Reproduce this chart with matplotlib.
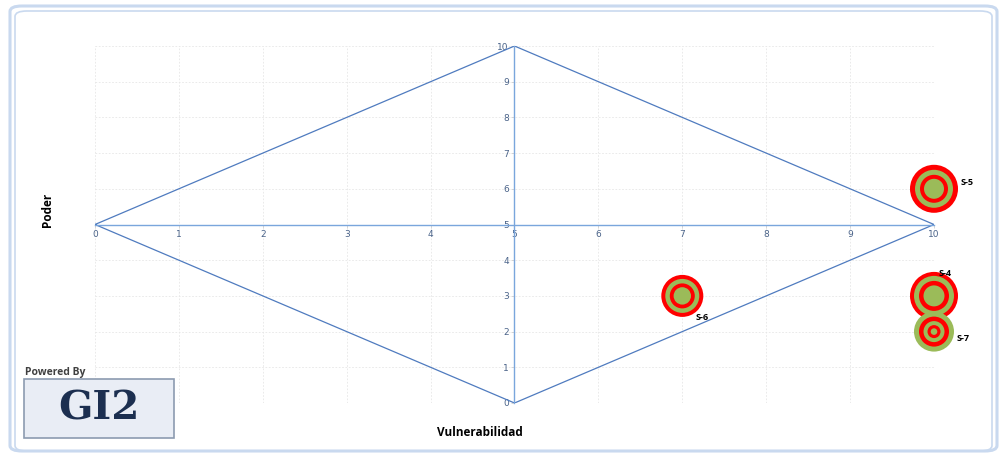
import matplotlib
matplotlib.use("Agg")
import matplotlib.pyplot as plt
from matplotlib.patches import FancyBboxPatch, Rectangle

# Stakeholders: vulnerability (x) and power (y)
names = ["S-5", "S-4", "S-6", "S-7"]
vulnerabilidad = [10, 10, 7, 10]
poder = [6, 3, 3, 2]

# Reference diamond (rombo)
rombo_x = [0, 5, 10, 5, 0]
rombo_y = [5, 10, 5, 0, 5]

ticks = list(range(0, 11))

RED = "#ff0000"
GREEN = "#9bbb59"
TICK_COLOR = "#4a6389"

# Concentric ring radii in pixels, outer to inner, with their colours
rings = {
    "S-5": [(24, RED), (19, GREEN), (14, RED), (10, GREEN)],
    "S-4": [(24, RED), (20, GREEN), (15, RED), (10.5, GREEN)],
    "S-6": [(21, RED), (17, GREEN), (12.5, RED), (8.7, GREEN)],
    "S-7": [(20, GREEN), (15, RED), (10.5, GREEN), (6.5, RED), (3.3, GREEN)],
}
label_offsets = {"S-5": (27, 6), "S-4": (5, 22), "S-6": (13, -22), "S-7": (23, -7)}

W, H = 1003, 454
fig = plt.figure(figsize=(W / 100, H / 100), dpi=100)
fig.patch.set_facecolor("white")

# Rounded double border around the chart
for pad, lw in [(0, 2.2), (5, 1.2)]:
    fig.patches.append(FancyBboxPatch(
        ((10 + pad) / W, (3 + pad * 0) / H), (987 - 2 * pad) / W, (445 - pad) / H,
        boxstyle="round,pad=0,rounding_size=0.012",
        transform=fig.transFigure, facecolor="none",
        edgecolor="#c9d9ef", linewidth=lw, zorder=0))

ax = fig.add_axes([95 / W, 1 - 403 / H, 839 / W, 357 / H])
ax.set_xlim(0, 10)
ax.set_ylim(0, 10)

# Light dashed grid
for t in ticks:
    ax.axvline(t, color="#e6e6e6", lw=0.6, ls=(0, (2, 2)), zorder=0)
    ax.axhline(t, color="#e6e6e6", lw=0.6, ls=(0, (2, 2)), zorder=0)

# Axes crossing at (5, 5)
for side in ["top", "right"]:
    ax.spines[side].set_visible(False)
ax.spines["left"].set_position(("data", 5))
ax.spines["bottom"].set_position(("data", 5))
ax.spines["left"].set_color("#7aa6dc")
ax.spines["bottom"].set_color("#7aa6dc")
ax.spines["left"].set_linewidth(1.0)
ax.spines["bottom"].set_linewidth(1.0)
ax.set_xticks(ticks)
ax.set_yticks(ticks)
ax.set_xticklabels([str(t) for t in ticks])
ax.set_yticklabels([str(t) for t in ticks])
ax.tick_params(axis="both", length=2, width=0.6, color="#d0d0d0",
               labelsize=6.5, labelcolor=TICK_COLOR, pad=2)

# Diamond
ax.plot(rombo_x, rombo_y, color="#4f7bbf", lw=0.9, zorder=2)

# Bubbles drawn as stacked concentric discs
px_to_pt = 72 / 100
for n, x, y in zip(names, vulnerabilidad, poder):
    for k, (r, c) in enumerate(rings[n]):
        d = 2 * r * px_to_pt
        ax.scatter([x], [y], s=d ** 2, color=c, edgecolors="none",
                   zorder=5 + k, clip_on=False)
    dx, dy = label_offsets[n]
    ax.annotate(n, (x, y), xytext=(dx * px_to_pt, dy * px_to_pt),
                textcoords="offset points", fontsize=6.5, fontweight="bold",
                color="black", ha="left", va="center", zorder=20,
                family="Open Sans", annotation_clip=False)

fig.text(48 / W, 1 - 210 / H, "Poder", rotation=90, fontsize=8.5,
         fontweight="bold", ha="center", va="center", family="Open Sans")
fig.text(480 / W, 1 - 432 / H, "Vulnerabilidad", fontsize=8.5,
         fontweight="bold", ha="center", va="center", family="Open Sans")

# Logo
fig.text(25 / W, 1 - 373 / H, "Powered By", fontsize=7.5, fontweight="bold",
         color="#404040", ha="left", va="center", family="Open Sans")
fig.patches.append(Rectangle((24 / W, 1 - 438 / H), 150 / W, 59 / H,
                             transform=fig.transFigure, facecolor="#e9edf5",
                             edgecolor="#8c9bb0", linewidth=1.2, zorder=3))
fig.text(99 / W, 1 - 409 / H, "GI2", fontsize=29, fontweight="bold",
         color="#1c2f50", ha="center", va="center", family="DejaVu Serif",
         zorder=4)

fig.savefig("out.png", dpi=100, facecolor="white")
